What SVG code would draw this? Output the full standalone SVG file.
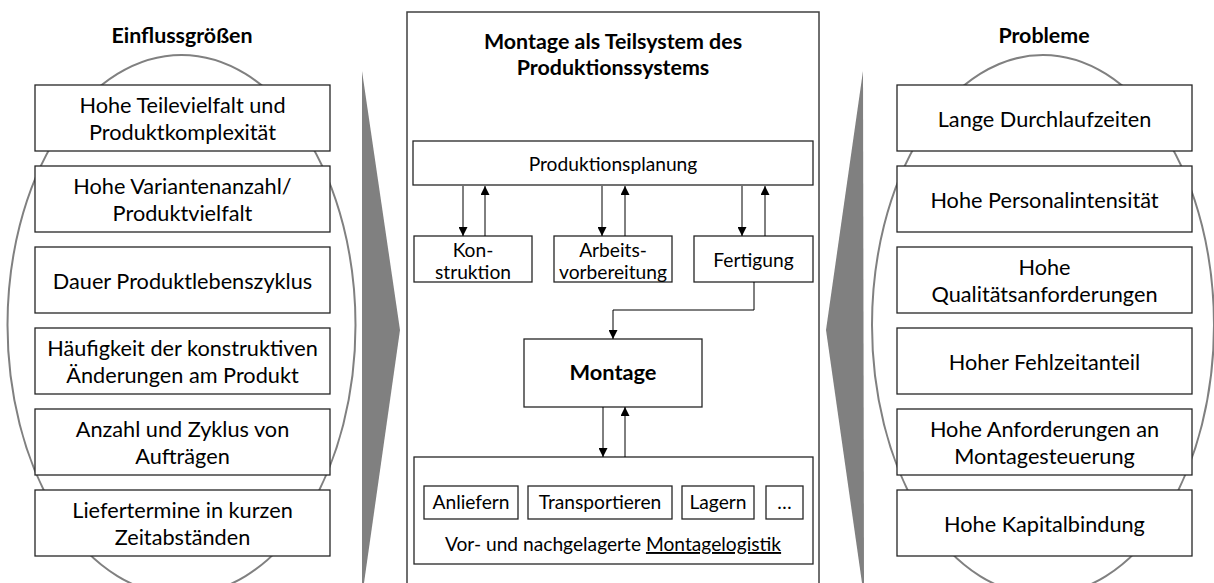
<svg xmlns="http://www.w3.org/2000/svg" width="1214" height="583" viewBox="0 0 1214 583">
  <style>
    .box { fill: #fff; stroke: #262626; stroke-width: 1.3; }
    .oval { fill: none; stroke: #808080; stroke-width: 2; }
    .wedge { fill: #808080; stroke: none; }
    .frame { fill: #fff; stroke: #404040; stroke-width: 1.5; }
    .t { font-family: Lato, "Liberation Sans", sans-serif; fill: #000; text-anchor: middle; }
    .big { font-size: 21.7px; }
    .mid { font-size: 19.2px; }
    .head { font-size: 21.4px; font-weight: bold; }
    .line { stroke: #000; stroke-width: 1; fill: none; }
  </style>
  <defs>
    <marker id="tip" viewBox="0 0 10 10" refX="10" refY="5" markerWidth="9" markerHeight="9" markerUnits="userSpaceOnUse" orient="auto">
      <path d="M0,0 L10,5 L0,10 Z" fill="#000"/>
    </marker>
  </defs>

  <rect width="1214" height="583" fill="#fff"/>

  <!-- left column: influencing factors -->
  <g id="einflussgroessen">
    <text class="t head" x="182" y="43">Einflussgrößen</text>
    <ellipse class="oval" cx="181.5" cy="325" rx="174" ry="270"/>
    <g id="e1"><rect class="box" x="35" y="85" width="295" height="66"/>
      <text class="t big" x="182.5" y="113">Hohe Teilevielfalt und</text>
      <text class="t big" x="182.5" y="140">Produktkomplexität</text></g>
    <g id="e2"><rect class="box" x="35" y="166" width="295" height="66"/>
      <text class="t big" x="182.5" y="194">Hohe Variantenanzahl/</text>
      <text class="t big" x="182.5" y="221">Produktvielfalt</text></g>
    <g id="e3"><rect class="box" x="35" y="247" width="295" height="66"/>
      <text class="t big" x="182.5" y="289">Dauer Produktlebenszyklus</text></g>
    <g id="e4"><rect class="box" x="35" y="328" width="295" height="66"/>
      <text class="t big" x="182.5" y="356">Häufigkeit der konstruktiven</text>
      <text class="t big" x="182.5" y="383">Änderungen am Produkt</text></g>
    <g id="e5"><rect class="box" x="35" y="409" width="295" height="66"/>
      <text class="t big" x="182.5" y="437">Anzahl und Zyklus von</text>
      <text class="t big" x="182.5" y="464">Aufträgen</text></g>
    <g id="e6"><rect class="box" x="35" y="490" width="295" height="66"/>
      <text class="t big" x="182.5" y="518">Liefertermine in kurzen</text>
      <text class="t big" x="182.5" y="545">Zeitabständen</text></g>
  </g>

  <!-- chevrons pointing into and out of the centre -->
  <polygon id="wedge-left" class="wedge" points="362,71 400,330 364,583 362,583"/>
  <polygon id="wedge-right" class="wedge" points="863,71 864,583 862,583 826,330"/>

  <!-- centre: assembly within the production system -->
  <g id="system">
    <rect class="frame" x="407" y="12" width="412" height="580"/>
    <text class="t head" x="613" y="49">Montage als Teilsystem des</text>
    <text class="t head" x="613" y="75">Produktionssystems</text>
  </g>
  <g id="produktionsplanung"><rect class="box" x="413" y="141" width="400" height="44"/>
    <text class="t mid" x="613" y="171">Produktionsplanung</text></g>
  <g id="konstruktion"><rect class="box" x="414" y="236" width="118" height="46"/>
    <text class="t mid" x="473" y="257">Kon-</text>
    <text class="t mid" x="473" y="279">struktion</text></g>
  <g id="arbeitsvorbereitung"><rect class="box" x="554" y="236" width="118" height="46"/>
    <text class="t mid" x="613" y="257">Arbeits-</text>
    <text class="t mid" x="613" y="279">vorbereitung</text></g>
  <g id="fertigung"><rect class="box" x="694" y="236" width="119" height="46"/>
    <text class="t mid" x="753.5" y="267">Fertigung</text></g>
  <g id="montage"><rect class="box" x="524" y="339" width="178" height="68"/>
    <text class="t head" x="613" y="380" style="font-size:21.8px">Montage</text></g>
  <g id="montagelogistik"><rect class="box" x="414" y="457" width="399" height="107"/>
    <g id="anliefern"><rect class="box" x="424" y="486" width="94" height="33"/>
      <text class="t mid" x="471" y="509">Anliefern</text></g>
    <g id="transportieren"><rect class="box" x="528" y="486" width="144" height="33"/>
      <text class="t mid" x="600" y="509">Transportieren</text></g>
    <g id="lagern"><rect class="box" x="682" y="486" width="72" height="33"/>
      <text class="t mid" x="718" y="509">Lagern</text></g>
    <g id="weitere"><rect class="box" x="766" y="486" width="37" height="33"/>
      <text class="t mid" x="784.5" y="509">…</text></g>
    <text class="t mid" x="613" y="551">Vor- und nachgelagerte <tspan text-decoration="underline">Montagelogistik</tspan></text>
  </g>

  <!-- connectors -->
  <g id="connectors">
    <line class="line" x1="463" y1="186" x2="463" y2="236" marker-end="url(#tip)"/>
    <line class="line" x1="485" y1="236" x2="485" y2="186" marker-end="url(#tip)"/>
    <line class="line" x1="602" y1="186" x2="602" y2="236" marker-end="url(#tip)"/>
    <line class="line" x1="625" y1="236" x2="625" y2="186" marker-end="url(#tip)"/>
    <line class="line" x1="742" y1="186" x2="742" y2="236" marker-end="url(#tip)"/>
    <line class="line" x1="765" y1="236" x2="765" y2="186" marker-end="url(#tip)"/>
    <polyline class="line" points="754,282 754,310 613,310 613,339" marker-end="url(#tip)"/>
    <line class="line" x1="603" y1="407" x2="603" y2="457" marker-end="url(#tip)"/>
    <line class="line" x1="625" y1="457" x2="625" y2="407" marker-end="url(#tip)"/>
  </g>

  <!-- right column: problems -->
  <g id="probleme">
    <text class="t head" x="1044" y="43">Probleme</text>
    <ellipse class="oval" cx="1043" cy="325" rx="171" ry="270"/>
    <g id="p1"><rect class="box" x="897" y="85" width="295" height="66"/>
      <text class="t big" x="1044.5" y="127">Lange Durchlaufzeiten</text></g>
    <g id="p2"><rect class="box" x="897" y="166" width="295" height="66"/>
      <text class="t big" x="1044.5" y="208">Hohe Personalintensität</text></g>
    <g id="p3"><rect class="box" x="897" y="247" width="295" height="66"/>
      <text class="t big" x="1044.5" y="275">Hohe</text>
      <text class="t big" x="1044.5" y="302">Qualitätsanforderungen</text></g>
    <g id="p4"><rect class="box" x="897" y="328" width="295" height="66"/>
      <text class="t big" x="1044.5" y="370">Hoher Fehlzeitanteil</text></g>
    <g id="p5"><rect class="box" x="897" y="409" width="295" height="66"/>
      <text class="t big" x="1044.5" y="437">Hohe Anforderungen an</text>
      <text class="t big" x="1044.5" y="464">Montagesteuerung</text></g>
    <g id="p6"><rect class="box" x="897" y="490" width="295" height="66"/>
      <text class="t big" x="1044.5" y="532">Hohe Kapitalbindung</text></g>
  </g>
</svg>
